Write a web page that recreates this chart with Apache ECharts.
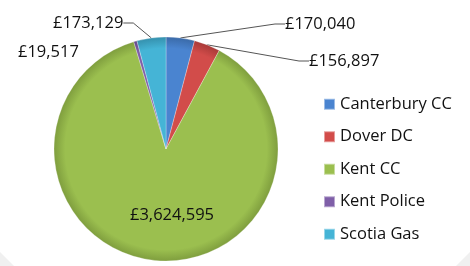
<!DOCTYPE html>
<html>
<head>
<meta charset="utf-8">
<script src="https://cdn.jsdelivr.net/npm/echarts@6/dist/echarts.min.js"></script>
<style>
  html, body { margin: 0; padding: 0; background: #fff; }
  #chart { width: 470px; height: 266px; }
</style>
</head>
<body>
<div id="chart"></div>
<script>
// data
var names = ['Canterbury CC', 'Dover DC', 'Kent CC', 'Kent Police', 'Scotia Gas'];
var amounts = [170040, 156897, 3624595, 19517, 173129];
var colours = ['#4a84d0', '#d24c4a', '#9bbf4f', '#7f5fa8', '#45b4d6'];
var edges = ['#3a6aa8', '#a83a38', '#7f9e3e', '#654a88', '#3590ad'];

// where each value label sits (x, y, align)
var labelSpots = [
  { x: 285, y: 24, align: 'left' },
  { x: 309, y: 61, align: 'left' },
  { x: 130, y: 215, align: 'left' },
  { x: 18, y: 52, align: 'left' },
  { x: 53, y: 23, align: 'left' }
];

var cx = 166, cy = 149, r = 112;

function money(v) {
  return '£' + v.toString().replace(/\B(?=(\d{3})+(?!\d))/g, ',');
}

function shade(i) {
  return new echarts.graphic.RadialGradient(cx, cy, r, [
    { offset: 0, color: colours[i] },
    { offset: 0.9, color: colours[i] },
    { offset: 1, color: edges[i] }
  ], true);
}

var chart = echarts.init(document.getElementById('chart'));

var pieData = names.map(function (n, i) {
  return {
    name: n,
    value: amounts[i],
    itemStyle: { color: shade(i) },
    label: i === 2 ? { position: 'inside' } : {},
    labelLine: { show: i !== 2 && i !== 3 }
  };
});

chart.setOption({
  animation: false,
  color: colours,
  textStyle: { fontFamily: 'Open Sans' },
  graphic: [
    { type: 'polygon', shape: { points: [[0, 252], [0, 266], [14, 266]] }, style: { fill: '#f0f0f0' }, z: -1 },
    { type: 'polygon', shape: { points: [[470, 252], [470, 266], [456, 266]] }, style: { fill: '#f0f0f0' }, z: -1 }
  ],
  legend: {
    orient: 'vertical',
    left: 318,
    top: 88,
    itemWidth: 11,
    itemHeight: 11,
    itemGap: 10,
    icon: 'rect',
    data: names.map(function (n, i) {
      return { name: n, itemStyle: { color: colours[i] } };
    }),
    textStyle: { fontSize: 16.5, color: '#111', fontFamily: 'Open Sans', lineHeight: 22.5 }
  },
  series: [{
    type: 'pie',
    center: [cx, cy],
    radius: r,
    startAngle: 90,
    clockwise: true,
    data: pieData,
    itemStyle: { borderColor: 'rgba(255,255,255,0.45)', borderWidth: 0.6 },
    label: {
      show: true,
      formatter: function (p) { return money(p.value); },
      fontSize: 16.5,
      color: '#111',
      fontFamily: 'Open Sans'
    },
    labelLine: {
      show: true,
      length: 10,
      length2: 10,
      lineStyle: { color: '#555', width: 1 }
    },
    labelLayout: function (p) {
      var s = labelSpots[p.dataIndex];
      return { x: s.x, y: s.y, align: s.align, verticalAlign: 'middle' };
    }
  }]
});
</script>
</body>
</html>
